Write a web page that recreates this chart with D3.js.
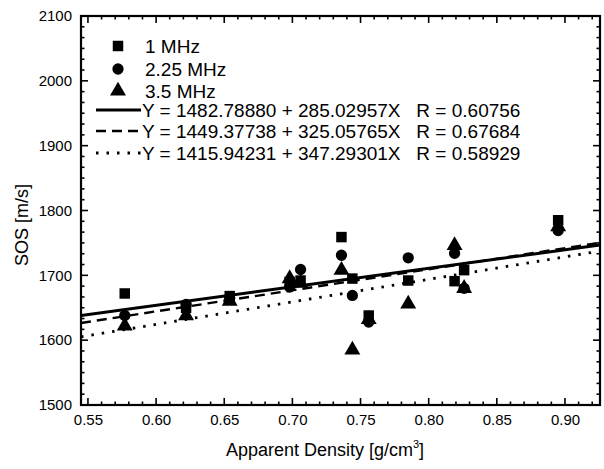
<!DOCTYPE html>
<html><head><meta charset="utf-8">
<script src="https://cdn.jsdelivr.net/npm/d3@7"></script>
<style>
html,body{margin:0;padding:0;background:#fff;}
svg{display:block;font-family:"Liberation Sans",Arial,sans-serif;}
</style></head>
<body>
<svg id="chart" width="604" height="469"></svg>
<script>
// ---- data ----
const density = [0.577, 0.622, 0.654, 0.698, 0.706, 0.736, 0.744, 0.756, 0.785, 0.819, 0.826, 0.895];
const sos1MHz   = [1672, 1650, 1668, 1690, 1692, 1759, 1695, 1638, 1692, 1691, 1708, 1785];
const sos225MHz = [1638, 1655, 1665, 1682, 1709, 1731, 1669, 1628, 1727, 1734, 1680, 1769];
const sos35MHz  = [1622, 1638, 1660, 1695, 1688, 1708, 1585, 1632, 1656, 1746, 1680, 1775];
const seriesNames = ["1 MHz", "2.25 MHz", "3.5 MHz"];
const fitIntercepts = [1482.78880, 1449.37738, 1415.94231];
const fitSlopes = [285.02957, 325.05765, 347.29301];
const fitR = ["0.60756", "0.67684", "0.58929"];
const xTickValues = [0.55, 0.60, 0.65, 0.70, 0.75, 0.80, 0.85, 0.90];
const yTickValues = [1500, 1600, 1700, 1800, 1900, 2000, 2100];

const svg = d3.select("#chart");
const L = 81, R = 600, T = 16, B = 405;
const x = d3.scaleLinear().domain([0.5449, 0.9257]).range([L, R]);
const y = d3.scaleLinear().domain([1500, 2100]).range([B, T]);

// frame
svg.append("rect").attr("x", L).attr("y", T).attr("width", R - L).attr("height", B - T)
  .attr("fill", "none").attr("stroke", "#000").attr("stroke-width", 2.2);

// ticks (inward)
const xMinor = d3.range(0.55, 0.9251, 0.01).map(v => +v.toFixed(2));
const yMinor = d3.range(0, 37).map(i => 1500 + i * 100 / 6);
const tickG = svg.append("g").attr("stroke", "#000").attr("stroke-width", 1.6);
xMinor.forEach(v => {
  const major = xTickValues.some(t => Math.abs(t - v) < 1e-6);
  const len = major ? 7 : 3.5;
  tickG.append("line").attr("x1", x(v)).attr("x2", x(v)).attr("y1", B).attr("y2", B - len);
  tickG.append("line").attr("x1", x(v)).attr("x2", x(v)).attr("y1", T).attr("y2", T + len);
});
yMinor.forEach(v => {
  const major = yTickValues.some(t => Math.abs(t - v) < 1e-6);
  const len = major ? 7 : 3.5;
  tickG.append("line").attr("y1", y(v)).attr("y2", y(v)).attr("x1", L).attr("x2", L + len);
  tickG.append("line").attr("y1", y(v)).attr("y2", y(v)).attr("x1", R).attr("x2", R - len);
});

// tick labels via axes (no lines)
const xAxis = svg.append("g").attr("transform", `translate(0,${B})`)
  .call(d3.axisBottom(x).tickValues(xTickValues).tickFormat(d3.format(".2f")).tickSize(0).tickPadding(9));
const yAxis = svg.append("g").attr("transform", `translate(${L},0)`)
  .call(d3.axisLeft(y).tickValues(yTickValues).tickFormat(d3.format("d")).tickSize(0).tickPadding(9));
[xAxis, yAxis].forEach(a => {
  a.select(".domain").remove();
  a.selectAll("text").attr("font-size", 15).attr("fill", "#000").attr("font-family", "Liberation Sans, Arial, sans-serif");
});

// axis titles
const xt = svg.append("text").attr("x", 325).attr("y", 456).attr("text-anchor", "middle")
  .attr("font-size", 18).attr("fill", "#000");
xt.append("tspan").text("Apparent Density [g/cm");
xt.append("tspan").attr("font-size", 11).attr("dy", -8).text("3");
xt.append("tspan").attr("dy", 8).text("]");
svg.append("text").attr("transform", "translate(28,225) rotate(-90)").attr("text-anchor", "middle")
  .attr("font-size", 18).attr("fill", "#000").text("SOS [m/s]");

// clip
svg.append("clipPath").attr("id", "clip").append("rect").attr("x", L).attr("y", T).attr("width", R - L).attr("height", B - T);

// fit lines
const dashes = [null, "10,6", "2.5,8"];
const widths = [3, 2.4, 2.8];
const fitG = svg.append("g").attr("clip-path", "url(#clip)");
fitIntercepts.forEach((a, i) => {
  const dom = x.domain();
  fitG.append("line")
    .attr("x1", x(dom[0])).attr("y1", y(a + fitSlopes[i] * dom[0]))
    .attr("x2", x(dom[1])).attr("y2", y(a + fitSlopes[i] * dom[1]))
    .attr("stroke", "#000").attr("stroke-width", widths[i])
    .attr("stroke-dasharray", dashes[i]);
});

// markers
const sym = [d3.symbolSquare, d3.symbolCircle, d3.symbolTriangle];
const symSize = [110, 100, 110];
const allSeries = [sos1MHz, sos225MHz, sos35MHz];
const ptG = svg.append("g");
allSeries.forEach((vals, i) => {
  ptG.selectAll(null).data(vals).enter().append("path")
    .attr("d", d3.symbol().type(sym[i]).size(symSize[i]))
    .attr("transform", (d, j) => `translate(${x(density[j])},${y(d)})`)
    .attr("fill", "#000");
});

// legend
const lg = svg.append("g");
const mRows = [46, 69, 91];
seriesNames.forEach((n, i) => {
  lg.append("path").attr("d", d3.symbol().type(sym[i]).size(symSize[i]))
    .attr("transform", `translate(118,${mRows[i]})`).attr("fill", "#000");
  lg.append("text").attr("x", 145).attr("y", mRows[i] + 7).attr("font-size", 19).attr("fill", "#000").text(n);
});
const lRows = [110, 131, 153];
fitIntercepts.forEach((a, i) => {
  lg.append("line").attr("x1", 96).attr("x2", 141).attr("y1", lRows[i]).attr("y2", lRows[i])
    .attr("stroke", "#000").attr("stroke-width", widths[i]).attr("stroke-dasharray", dashes[i]);
  lg.append("text").attr("x", 142).attr("y", lRows[i] + 7).attr("font-size", 19).attr("fill", "#000")
    .attr("xml:space", "preserve")
    .text(`Y = ${a.toFixed(5)} + ${fitSlopes[i].toFixed(5)}X   R = ${fitR[i]}`);
});
</script>
</body></html>
